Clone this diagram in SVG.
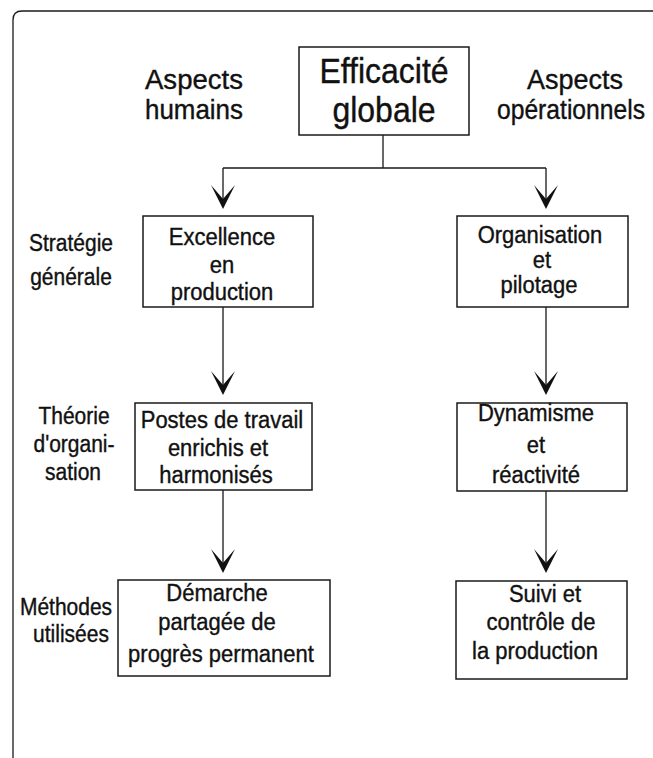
<svg xmlns="http://www.w3.org/2000/svg" width="653" height="758" viewBox="0 0 653 758">
<style>
.bx{fill:none;stroke:#1a1a1a;stroke-width:1.5}
.ln{fill:none;stroke:#1a1a1a;stroke-width:1.3}
.ah{fill:#111;stroke:none}
text{font-family:"Liberation Sans",Arial,sans-serif;fill:#111;stroke:#111;stroke-width:0.35;text-anchor:middle;transform-box:fill-box;transform-origin:50% 81%;transform:scaleY(1.1)}
.t1{font-size:32px}
.hd{font-size:25px}
.bt{font-size:22px}
.sd{font-size:21px}
</style>
<defs>
<path id="arr" d="M0,0 L-12,-24 L0,-10 L12,-24 Z"/>
</defs>
<rect width="653" height="758" fill="#fff"/>
<path class="ln" d="M13,758 V20 Q13,11 22,11 H653"/>

<g id="connectors">
<path class="ln" d="M383,135 V168 M223,168 H546 M223,168 V205 M546,168 V205"/>
<path class="ln" d="M223,307 V390 M546,307 V390"/>
<path class="ln" d="M223,490 V568 M546,491 V568"/>
<use href="#arr" class="ah" x="223" y="209"/>
<use href="#arr" class="ah" x="546" y="209"/>
<use href="#arr" class="ah" x="223" y="395"/>
<use href="#arr" class="ah" x="546" y="395"/>
<use href="#arr" class="ah" x="223" y="573"/>
<use href="#arr" class="ah" x="546" y="573"/>
</g>

<g id="hdr-left">
<text class="hd" x="194" y="89" textLength="98" lengthAdjust="spacingAndGlyphs">Aspects</text>
<text class="hd" x="194" y="119" textLength="98" lengthAdjust="spacingAndGlyphs">humains</text>
</g>
<g id="hdr-right">
<text class="hd" x="575" y="89" textLength="96" lengthAdjust="spacingAndGlyphs">Aspects</text>
<text class="hd" x="571" y="119" textLength="148" lengthAdjust="spacingAndGlyphs">opérationnels</text>
</g>

<g id="efficacite">
<rect class="bx" x="299" y="47" width="170" height="88"/>
<text class="t1" x="384" y="83">Efficacité</text>
<text class="t1" x="384" y="122">globale</text>
</g>

<g id="lbl-strategie">
<text class="sd" x="71" y="251">Stratégie</text>
<text class="sd" x="71" y="285">générale</text>
</g>
<g id="excellence">
<rect class="bx" x="143" y="216" width="170" height="91"/>
<text class="bt" x="222" y="245">Excellence</text>
<text class="bt" x="222" y="273">en</text>
<text class="bt" x="222" y="300">production</text>
</g>
<g id="organisation">
<rect class="bx" x="457" y="216" width="171" height="91"/>
<text class="bt" x="540" y="243">Organisation</text>
<text class="bt" x="542" y="268">et</text>
<text class="bt" x="539" y="293">pilotage</text>
</g>

<g id="lbl-theorie">
<text class="sd" x="74" y="424">Théorie</text>
<text class="sd" x="74" y="452">d'organi-</text>
<text class="sd" x="73" y="480">sation</text>
</g>
<g id="postes">
<rect class="bx" x="135" y="403" width="177" height="87"/>
<text class="bt" x="222" y="428">Postes de travail</text>
<text class="bt" x="218" y="456">enrichis et</text>
<text class="bt" x="216" y="483">harmonisés</text>
</g>
<g id="dynamisme">
<rect class="bx" x="457" y="403" width="170" height="88"/>
<text class="bt" x="536" y="421">Dynamisme</text>
<text class="bt" x="536" y="453">et</text>
<text class="bt" x="536" y="483">réactivité</text>
</g>

<g id="lbl-methodes">
<text class="sd" x="66" y="615">Méthodes</text>
<text class="sd" x="71" y="642">utilisées</text>
</g>
<g id="demarche">
<rect class="bx" x="118" y="580" width="212" height="96"/>
<text class="bt" x="217" y="601">Démarche</text>
<text class="bt" x="217" y="630">partagée de</text>
<text class="bt" x="221" y="662">progrès permanent</text>
</g>
<g id="suivi">
<rect class="bx" x="456" y="581" width="171" height="98"/>
<text class="bt" x="545" y="602">Suivi et</text>
<text class="bt" x="541" y="630">contrôle de</text>
<text class="bt" x="535" y="659">la production</text>
</g>
</svg>
